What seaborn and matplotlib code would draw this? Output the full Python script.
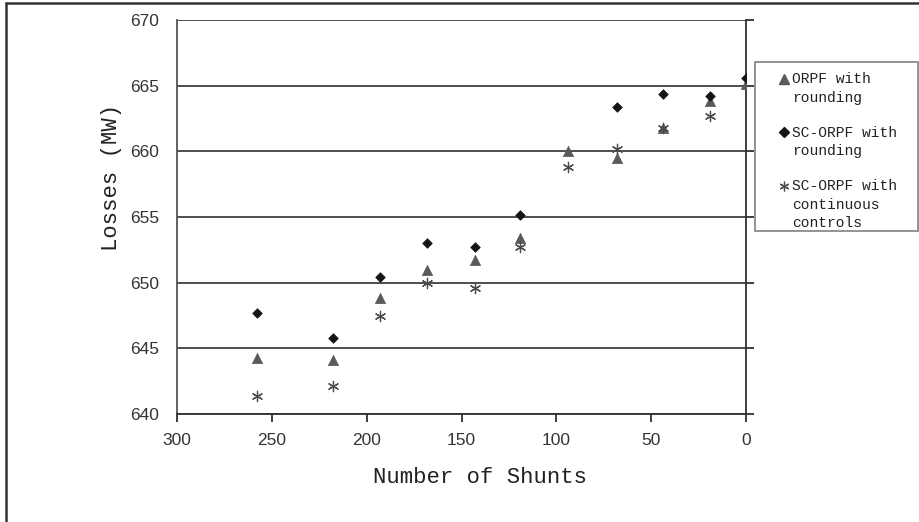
import numpy as np
import pandas as pd
import matplotlib
matplotlib.use('Agg')
import matplotlib.pyplot as plt
from matplotlib.lines import Line2D
from matplotlib.patches import Rectangle
import seaborn as sns

# values
shunts = [258, 218, 193, 168, 143, 119, 94, 68, 44, 19, 0]
orpf_rounding = [644.3, 644.1, 648.8, 651.0, 651.7, 653.4, 660.0, 659.5, 661.8, 663.8, 665.1]
scorpf_rounding = [647.7, 645.75, 650.4, 653.0, 652.7, 655.15, np.nan, 663.4, 664.35, 664.2, 665.55]
scorpf_continuous = [641.4, 642.1, 647.5, 650.0, 649.6, 652.7, 658.8, 660.2, 661.8, 662.7, np.nan]

series_labels = ['ORPF with\nrounding', 'SC-ORPF with\nrounding', 'SC-ORPF with\ncontinuous\ncontrols']
y_ticks = [640, 645, 650, 655, 660, 665, 670]
x_ticks = [300, 250, 200, 150, 100, 50, 0]

df = pd.DataFrame({'shunts': shunts,
                   'orpf': orpf_rounding,
                   'sc_round': scorpf_rounding,
                   'sc_cont': scorpf_continuous})

sns.set_theme(style='white')
plt.rcParams['font.family'] = ['Liberation Sans', 'DejaVu Sans']
mono = ['Liberation Mono', 'DejaVu Sans Mono']

fig = plt.figure(figsize=(9.2, 5.22), dpi=100)
ax = fig.add_axes([177 / 920, 1 - 414 / 522, 569 / 920, 394 / 522])

# series, drawn in the same order as the original (later ones on top)
sns.scatterplot(data=df, x='shunts', y='orpf', marker='^', s=55, color='#5a5a5a',
                edgecolor='#5a5a5a', linewidth=0.5, ax=ax, legend=False, zorder=3)
sns.scatterplot(data=df, x='shunts', y='sc_round', marker='D', s=24, color='#151515',
                edgecolor='#151515', linewidth=0.5, ax=ax, legend=False, zorder=4)
sns.scatterplot(data=df, x='shunts', y='sc_cont', marker=(6, 2, 0), s=55, color='#4a4a4a',
                edgecolor='#4a4a4a', linewidth=0.9, ax=ax, legend=False, zorder=5)

ax.set_xlim(300, 0)
ax.set_ylim(640, 670)
ax.set_xticks(x_ticks)
ax.set_yticks(y_ticks)
ax.yaxis.grid(True, color='#404040', linewidth=1.3)
ax.xaxis.grid(False)
ax.set_axisbelow(True)

ax.spines['top'].set_visible(False)
ax.spines['left'].set_color('#555555')
ax.spines['right'].set_color('#303030')
ax.spines['bottom'].set_color('#303030')
for side in ['left', 'right', 'bottom']:
    ax.spines[side].set_linewidth(1.3)

ax.tick_params(axis='y', left=False, right=True, labelleft=True, labelright=False,
               direction='out', length=6, width=1.3, color='#303030',
               labelsize=12.5, labelcolor='#333333', pad=7)
ax.tick_params(axis='x', bottom=True, direction='out', length=6, width=1.3,
               color='#303030', labelsize=12.5, labelcolor='#333333', pad=8)

ax.set_xlabel('Number of Shunts', family=mono, fontsize=16, color='#222222')
ax.set_ylabel('Losses (MW)', family=mono, fontsize=16, color='#222222')
ax.xaxis.set_label_coords(0.532, -0.135)
ax.yaxis.set_label_coords(-0.097, 0.6)

handles = [
    Line2D([], [], linestyle='none', marker='^', markersize=7, color='#5a5a5a'),
    Line2D([], [], linestyle='none', marker='D', markersize=5, color='#151515'),
    Line2D([], [], linestyle='none', marker=(6, 2, 0), markersize=7, color='#4a4a4a',
           markeredgewidth=0.9),
]
leg = ax.legend(handles, series_labels, loc='upper left', mode='expand',
                bbox_to_anchor=(755 / 920, 1 - 231 / 522, 163 / 920, 169 / 522),
                bbox_transform=fig.transFigure,
                borderaxespad=0, frameon=False,
                prop={'family': mono, 'size': 10.5},
                handlelength=2.6, handletextpad=-0.75, handleheight=1.3,
                labelspacing=1.45, borderpad=0.7)
for t in leg.get_texts():
    t.set_linespacing(1.4)
    t.set_color('#222222')
# put each marker beside the first line of its label
for col in leg._legend_handle_box.get_children():
    for row in col.get_children():
        row.align = 'top'

# legend box, drawn separately so it hugs the last line like the original
fig.add_artist(Rectangle((755 / 920, 1 - 231 / 522), 163 / 920, 169 / 522,
                         transform=fig.transFigure, fill=False,
                         edgecolor='#808080', linewidth=1.2))

# outer border of the original picture (top and left edges only)
fig.add_artist(Line2D([6.5 / 920, 1], [1 - 2.5 / 522, 1 - 2.5 / 522],
                      transform=fig.transFigure, color='#333333', linewidth=1.8))
fig.add_artist(Line2D([6.5 / 920, 6.5 / 920], [0, 1 - 2.5 / 522],
                      transform=fig.transFigure, color='#333333', linewidth=1.8))

fig.savefig('out.png', dpi=100)
